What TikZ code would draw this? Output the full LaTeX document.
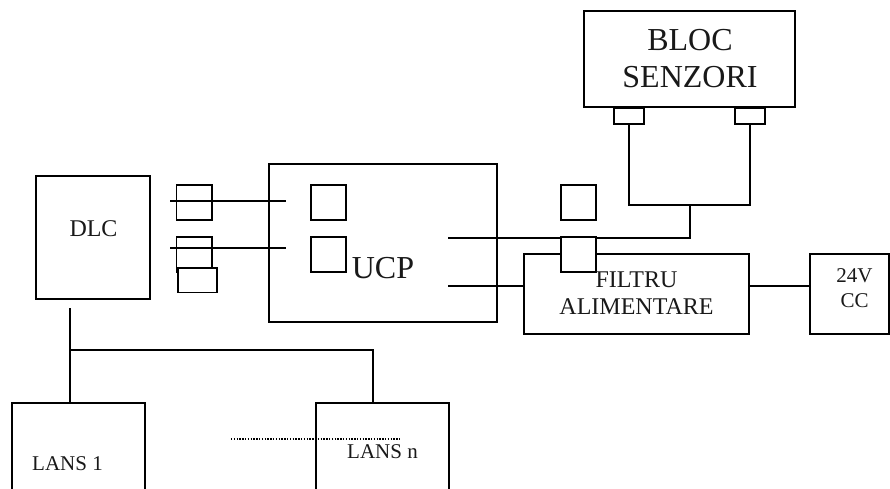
\documentclass[tikz,border=0pt]{standalone}
\usepackage{fontspec}
\setmainfont{Liberation Serif}
\tikzset{
  x=1pt,y=-1pt,
  wire/.style={draw=black,line width=1.4pt},
  box/.style={draw=black,line width=1.4pt,fill=white,inner sep=0pt,outer sep=0pt,anchor=north west},
  port/.style={box,minimum width=35pt,minimum height=35pt},
  label/.style={text=black!90,align=center,inner sep=0pt},
  big/.style={label,font=\fontsize{32}{37}\selectfont},
  mid/.style={label,font=\fontsize{24}{27}\selectfont},
  small/.style={label,font=\fontsize{21}{25}\selectfont},
}
\begin{document}
\begin{tikzpicture}
\useasboundingbox (0,0) rectangle (890,488);
\clip (0,0) rectangle (890,488);
\fill[white] (0,0) rectangle (890,488);
% main boxes
\node[box,minimum width=211pt,minimum height=96pt] (bloc) at (584,11) {};
\node[box,minimum width=30pt,minimum height=16pt] (sa) at (614,108) {};
\node[box,minimum width=30pt,minimum height=16pt] (sb) at (735,108) {};
\node[box,minimum width=114pt,minimum height=123pt] (dlc) at (36,176) {};
\node[box,minimum width=228pt,minimum height=158pt] (ucp) at (269,164) {};
\node[box,minimum width=225pt,minimum height=80pt] (filtru) at (524,254) {};
\node[box,minimum width=79pt,minimum height=80pt] (cc) at (810,254) {};
\node[box,minimum width=133pt,minimum height=120pt] (lans1) at (12,403) {};
\node[box,minimum width=133pt,minimum height=120pt] (lansn) at (316,403) {};
% connector points
\coordinate (bus) at (70,350);
\coordinate (busr) at (373,350);
\coordinate (dlcout) at (70,308);
\coordinate (join) at (690,205);
\coordinate (ucpa) at (448,238);
\coordinate (ucpb) at (448,286);
\coordinate (la) at (170,201);
\coordinate (lae) at (286,201);
\coordinate (lb) at (170,248);
\coordinate (lbe) at (286,248);
\coordinate (da) at (231,439);
\coordinate (db) at (401,439);
% wires
\draw[wire] (dlcout) -- (bus) -- (lans1.north -| bus);
\draw[wire] (bus) -- (busr) -- (lansn.north -| busr);
\draw[wire] (sa.south) |- (join) -| (sb.south);
\draw[wire] (join) -- (join |- ucpa) -- (ucpa);
\draw[wire] (ucpb) -- (ucpb -| filtru.west);
\draw[wire] (ucpb -| filtru.east) -- (ucpb -| cc.west);
\draw[wire] (la) -- (lae);
\draw[wire] (lb) -- (lbe);
% ports
\node[port] (pa) at (311,185) {};
\node[port] (pb) at (311,237) {};
\node[port] (pc) at (561,185) {};
\node[port] (pd) at (561,237) {};
\node[box,fill=none,minimum width=35.5pt,minimum height=35pt] (pe) at (176.5,185) {};
\node[box,fill=none,minimum width=35.5pt,minimum height=35pt] (pf) at (176.5,237) {};
\node[box,minimum width=39pt,minimum height=24.5pt] (pg) at (178,268) {};
\draw[black,line width=1.2pt,dash pattern=on 1.4pt off 1.4pt] (da) -- (db);
% labels
\node[big] (tb) at (690,58.5) {BLOC\\SENZORI};
\node[big,anchor=base] (tu) at (383,278) {UCP};
\node[mid,anchor=base] (td) at (93.5,236) {DLC};
\node[mid] (tf) at (636.5,293.5) {FILTRU\\ALIMENTARE};
\node[small] (tc) at (854.5,288.5) {24V\\CC};
\node[small,anchor=base] (t1) at (67.5,470) {LANS 1};
\node[small,anchor=base] (tn) at (382.5,458) {LANS n};
\end{tikzpicture}
\end{document}
